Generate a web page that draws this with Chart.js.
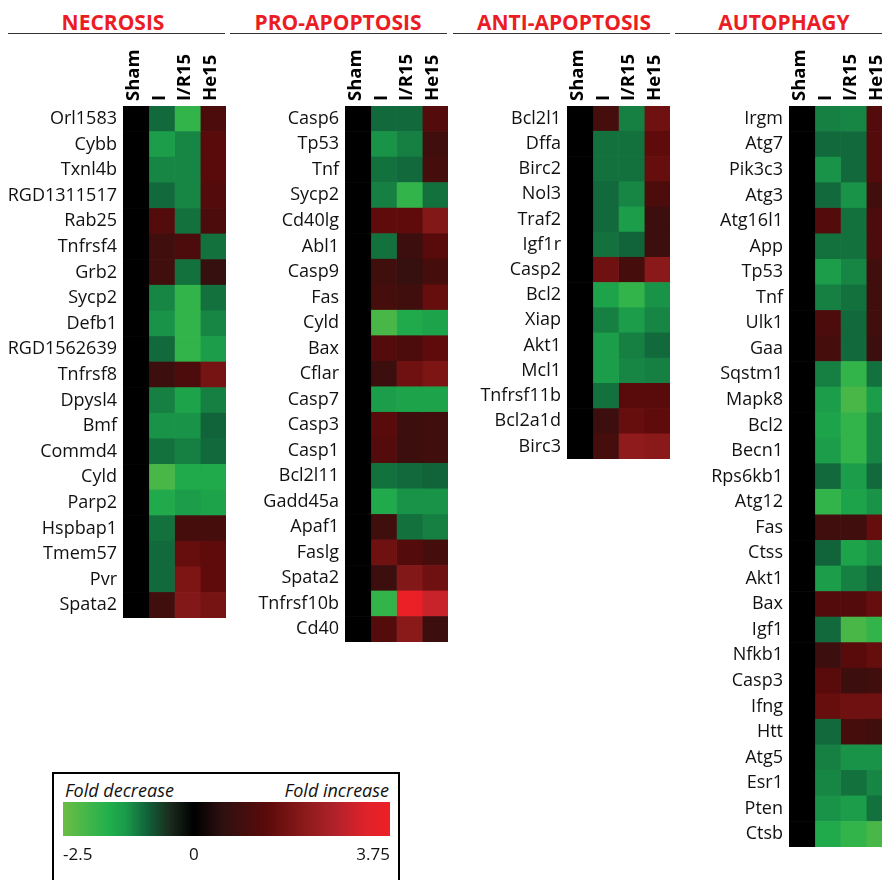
<!DOCTYPE html>
<html>
<head>
<meta charset="utf-8">
<script src="https://cdn.jsdelivr.net/npm/chart.js"></script>
<style>
  body { margin: 0; width: 882px; height: 880px; overflow: hidden; background: #fff; position: relative; font-family: "Open Sans", sans-serif; }
  .titulo { position: absolute; top: 8px; transform: translateX(-50%); color: #ec1c24; font-weight: 700; font-size: 21px; line-height: normal; white-space: nowrap; }
  .linea { position: absolute; top: 33px; height: 0; border-top: 1.5px solid #333; }
  canvas { position: absolute; }
  .caja { position: absolute; left: 52px; top: 772px; width: 344px; height: 130px; border: 2px solid #000; }
  .etiqueta { position: absolute; top: 778px; font-style: italic; font-size: 18px; line-height: normal; color: #111; }
</style>
</head>
<body>
<div class="titulo" style="left:113px">NECROSIS</div>
<div class="titulo" style="left:338px">PRO-APOPTOSIS</div>
<div class="titulo" style="left:564px">ANTI-APOPTOSIS</div>
<div class="titulo" style="left:784px">AUTOPHAGY</div>
<div class="linea" style="left:8px;width:217px"></div>
<div class="linea" style="left:230px;width:217px"></div>
<div class="linea" style="left:453px;width:217px"></div>
<div class="linea" style="left:675px;width:207px"></div>

<canvas id="necrosis" width="226" height="582" style="left:0;top:36px"></canvas>
<canvas id="pro" width="218" height="606" style="left:230px;top:36px"></canvas>
<canvas id="anti" width="218" height="423" style="left:452px;top:36px"></canvas>
<canvas id="auto" width="218" height="811" style="left:674px;top:36px"></canvas>

<div class="caja"></div>
<div class="etiqueta" style="left:65px">Fold decrease</div>
<div class="etiqueta" style="right:493px">Fold increase</div>
<canvas id="barra" width="327" height="72" style="left:63px;top:802px"></canvas>

<script>
const condiciones = ['Sham', 'I', 'I/R15', 'He15'];

// filas: [Sham, I, I/R15, He15]
const necrosisGenes = ['Orl1583', 'Cybb', 'Txnl4b', 'RGD1311517', 'Rab25', 'Tnfrsf4', 'Grb2', 'Sycp2', 'Defb1', 'RGD1562639',
  'Tnfrsf8', 'Dpysl4', 'Bmf', 'Commd4', 'Cyld', 'Parp2', 'Hspbap1', 'Tmem57', 'Pvr', 'Spata2'];
const necrosisValores = [
  [0, -0.95, -1.85, 1.1], [0, -1.35, -1.15, 1.35], [0, -1.15, -1.15, 1.35], [0, -0.95, -1.15, 1.25],
  [0, 1.25, -1.0, 1.1], [0, 0.9, 1.1, -1.0], [0, 0.9, -1.0, 0.7], [0, -1.15, -1.85, -1.0],
  [0, -1.25, -1.85, -1.15], [0, -0.95, -1.85, -1.35], [0, 0.8, 1.1, 1.8], [0, -1.1, -1.45, -1.1],
  [0, -1.25, -1.25, -0.9], [0, -1.0, -1.1, -0.95], [0, -2.1, -1.55, -1.55], [0, -1.55, -1.35, -1.45],
  [0, -1.0, 1.0, 1.0], [0, -0.95, 1.55, 1.45], [0, -0.95, 1.9, 1.45], [0, 0.9, 2.0, 1.8]
];

const proGenes = ['Casp6', 'Tp53', 'Tnf', 'Sycp2', 'Cd40lg', 'Abl1', 'Casp9', 'Fas', 'Cyld', 'Bax', 'Cflar',
  'Casp7', 'Casp3', 'Casp1', 'Bcl2l11', 'Gadd45a', 'Apaf1', 'Faslg', 'Spata2', 'Tnfrsf10b', 'Cd40'];
const proValores = [
  [0, -0.95, -0.95, 1.25], [0, -1.25, -1.1, 0.9], [0, -1.0, -0.95, 1.0], [0, -1.1, -1.85, -1.0],
  [0, 1.45, 1.45, 2.0], [0, -1.0, 0.8, 1.35], [0, 0.9, 0.7, 1.0], [0, 1.0, 0.9, 1.55],
  [0, -2.1, -1.55, -1.45], [0, 1.25, 1.1, 1.45], [0, 0.8, 1.7, 1.9], [0, -1.35, -1.45, -1.45],
  [0, 1.35, 0.8, 0.9], [0, 1.25, 0.8, 0.9], [0, -1.0, -0.95, -0.9], [0, -1.55, -1.25, -1.25],
  [0, 0.9, -1.0, -1.1], [0, 1.7, 1.25, 1.0], [0, 0.8, 2.0, 1.7], [0, -1.85, 3.65, 3.0],
  [0, 1.25, 2.1, 0.8]
];

const antiGenes = ['Bcl2l1', 'Dffa', 'Birc2', 'Nol3', 'Traf2', 'Igf1r', 'Casp2', 'Bcl2', 'Xiap', 'Akt1', 'Mcl1',
  'Tnfrsf11b', 'Bcl2a1d', 'Birc3'];
const antiValores = [
  [0, 1.0, -1.1, 1.7], [0, -1.0, -1.0, 1.45], [0, -1.0, -1.0, 1.55], [0, -0.95, -1.15, 1.1],
  [0, -0.95, -1.35, 0.8], [0, -1.0, -0.9, 0.8], [0, 1.7, 1.0, 2.1], [0, -1.45, -1.85, -1.25],
  [0, -1.1, -1.35, -1.15], [0, -1.35, -1.1, -0.95], [0, -1.35, -1.15, -1.1], [0, -1.0, 1.35, 1.35],
  [0, 0.8, 1.55, 1.45], [0, 1.0, 2.2, 2.1]
];

const autoGenes = ['Irgm', 'Atg7', 'Pik3c3', 'Atg3', 'Atg16l1', 'App', 'Tp53', 'Tnf', 'Ulk1', 'Gaa', 'Sqstm1',
  'Mapk8', 'Bcl2', 'Becn1', 'Rps6kb1', 'Atg12', 'Fas', 'Ctss', 'Akt1', 'Bax', 'Igf1', 'Nfkb1', 'Casp3',
  'Ifng', 'Htt', 'Atg5', 'Esr1', 'Pten', 'Ctsb'];
const autoValores = [
  [0, -1.1, -1.15, 1.25], [0, -0.95, -0.95, 1.25], [0, -1.25, -0.95, 1.25], [0, -0.95, -1.25, 0.9],
  [0, 1.25, -1.0, 1.1], [0, -1.0, -1.0, 1.1], [0, -1.35, -1.15, 0.9], [0, -1.1, -1.0, 0.9],
  [0, 1.1, -0.95, 0.9], [0, 1.0, -0.95, 0.8], [0, -1.1, -1.85, -1.0], [0, -1.35, -2.1, -1.35],
  [0, -1.45, -1.85, -1.15], [0, -1.35, -1.85, -1.15], [0, -0.95, -1.35, -0.95], [0, -1.85, -1.45, -1.25],
  [0, 0.9, 0.9, 1.55], [0, -0.9, -1.45, -1.25], [0, -1.35, -1.1, -0.95], [0, 1.25, 1.25, 1.55],
  [0, -0.95, -2.1, -1.85], [0, 0.8, 1.35, 1.55], [0, 1.35, 0.8, 0.9], [0, 1.55, 1.7, 1.7],
  [0, -0.95, 1.0, 0.9], [0, -1.1, -1.25, -1.25], [0, -1.15, -1.0, -1.15], [0, -1.25, -1.35, -1.0],
  [0, -1.55, -1.85, -2.1]
];

const marcasLeyenda = [-2.5, 0, 3.75];

// escala de color (verde - negro - rojo)
const escalaValores = [-2.5, -1.65, -1.3, -0.9, -0.45, 0, 0.55, 1.4, 2.1, 2.7, 3.3, 3.75];
const escalaColores = ['#6cbd45', '#22b14c', '#1a9a4a', '#11633a', '#1a2a1d', '#000000',
  '#2e1010', '#5c0a0a', '#8a1a1a', '#b0222a', '#e0222a', '#ee1f26'];

const fuente = "'Open Sans', sans-serif";

function hexARgb(hex) {
  const n = parseInt(hex.slice(1), 16);
  return [(n >> 16) & 255, (n >> 8) & 255, n & 255];
}

function colorPara(v) {
  if (v <= escalaValores[0]) return escalaColores[0];
  for (let i = 1; i < escalaValores.length; i++) {
    if (v <= escalaValores[i]) {
      const t = (v - escalaValores[i - 1]) / (escalaValores[i] - escalaValores[i - 1]);
      const a = hexARgb(escalaColores[i - 1]);
      const b = hexARgb(escalaColores[i]);
      const c = a.map((x, k) => Math.round(x + (b[k] - x) * t));
      return `rgb(${c[0]},${c[1]},${c[2]})`;
    }
  }
  return escalaColores[escalaColores.length - 1];
}

function crearPanel(id, genes, valores, anchoEje) {
  const datasets = condiciones.map((cond, j) => ({
    label: cond,
    data: genes.map(() => 1),
    backgroundColor: valores.map(fila => colorPara(fila[j])),
    barPercentage: 1,
    categoryPercentage: 1,
    borderWidth: 0
  }));

  return new Chart(document.getElementById(id), {
    type: 'bar',
    data: { labels: genes, datasets: datasets },
    options: {
      indexAxis: 'y',
      responsive: false,
      animation: false,
      layout: { padding: 0 },
      plugins: { legend: { display: false }, tooltip: { enabled: false } },
      scales: {
        x: { stacked: true, min: 0, max: condiciones.length, display: false },
        y: {
          stacked: true,
          grid: { display: false, drawTicks: false },
          border: { display: false },
          ticks: { font: { family: fuente, size: 18 }, color: '#111', padding: 6, autoSkip: false },
          afterFit: s => { s.width = anchoEje; s.paddingTop = 0; s.paddingBottom = 0; }
        },
        x2: {
          type: 'category',
          labels: condiciones,
          position: 'top',
          offset: true,
          grid: { display: false, drawTicks: false },
          border: { display: false },
          ticks: { minRotation: 90, maxRotation: 90, labelOffset: 20, font: { family: fuente, size: 18.5, weight: 'bold' }, color: '#000', padding: 5, autoSkip: false },
          afterFit: s => { s.height = 70; s.paddingLeft = 0; s.paddingRight = 0; }
        }
      }
    }
  });
}

function gradiente(chart) {
  const area = chart.chartArea;
  if (!area) return '#000';
  const escala = chart.scales.x;
  const g = chart.ctx.createLinearGradient(area.left, 0, area.right, 0);
  escalaValores.forEach((v, i) => {
    const p = (escala.getPixelForValue(v) - area.left) / (area.right - area.left);
    g.addColorStop(Math.min(1, Math.max(0, p)), escalaColores[i]);
  });
  return g;
}

function crearLeyenda() {
  const min = marcasLeyenda[0];
  const max = marcasLeyenda[marcasLeyenda.length - 1];
  return new Chart(document.getElementById('barra'), {
    type: 'bar',
    data: {
      labels: [''],
      datasets: [{
        data: [[min, max]],
        backgroundColor: ctx => gradiente(ctx.chart),
        barPercentage: 1,
        categoryPercentage: 1,
        borderWidth: 0
      }]
    },
    options: {
      indexAxis: 'y',
      responsive: false,
      animation: false,
      layout: { padding: 0 },
      plugins: { legend: { display: false }, tooltip: { enabled: false } },
      scales: {
        x: {
          type: 'linear',
          min: min,
          max: max,
          grid: { display: false, drawTicks: false },
          border: { display: false },
          afterBuildTicks: s => { s.ticks = marcasLeyenda.map(v => ({ value: v })); },
          ticks: { align: 'inner', padding: 9, font: { family: fuente, size: 17 }, color: '#111', callback: v => String(v) },
          afterFit: s => { s.height = 38; s.paddingLeft = 0; s.paddingRight = 0; }
        },
        y: { display: false }
      }
    }
  });
}

crearPanel('necrosis', necrosisGenes, necrosisValores, 123);
crearPanel('pro', proGenes, proValores, 115);
crearPanel('anti', antiGenes, antiValores, 115);
crearPanel('auto', autoGenes, autoValores, 115);
crearLeyenda();
</script>
</body>
</html>
